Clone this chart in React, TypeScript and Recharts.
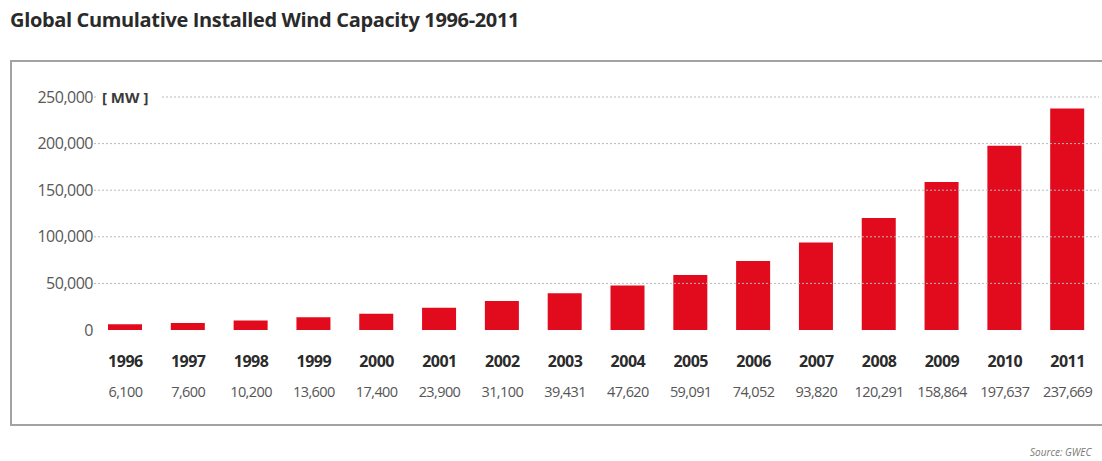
import React from "react";
import { BarChart, Bar, XAxis, YAxis, ReferenceLine } from "recharts";

const YEARS = [
  "1996", "1997", "1998", "1999", "2000", "2001", "2002", "2003",
  "2004", "2005", "2006", "2007", "2008", "2009", "2010", "2011",
];
const CAPACITY = [
  6100, 7600, 10200, 13600, 17400, 23900, 31100, 39431,
  47620, 59091, 74052, 93820, 120291, 158864, 197637, 237669,
];
const Y_TICKS = [0, 50000, 100000, 150000, 200000, 250000];
const GRID_VALUES = [50000, 100000, 150000, 200000, 250000];

const FONT = "'Open Sans', 'Noto Sans', sans-serif";
const RED = "#e20a1d";

const data = YEARS.map((year, i) => ({ year, mw: CAPACITY[i] }));

const fmt = (v: number) => v.toLocaleString("en-US");

function YearTick(props: any) {
  const { x, y, payload, index } = props;
  return (
    <g>
      <text
        x={x}
        y={y + 37}
        textAnchor="middle"
        fontFamily={FONT}
        fontSize={16}
        fontWeight={700}
        letterSpacing={-0.5}
        fill="#2b2b2b"
      >
        {payload.value}
      </text>
      <text
        x={x}
        y={y + 67}
        textAnchor="middle"
        fontFamily={FONT}
        fontSize={14.5}
        letterSpacing={-0.6}
        fill="#555"
      >
        {fmt(CAPACITY[index])}
      </text>
    </g>
  );
}

function MwLabel(props: any) {
  const { viewBox } = props;
  const x = viewBox.x + 6;
  const y = viewBox.y;
  return (
    <g>
      <rect x={x - 2} y={y - 11} width={64} height={22} fill="#fff" />
      <text
        x={x + 2}
        y={y}
        dominantBaseline="central"
        fontFamily={FONT}
        fontSize={15}
        fontWeight={700}
        fill="#3a3a3a"
      >
        [ MW ]
      </text>
    </g>
  );
}

export default function App() {
  return (
    <div
      style={{
        position: "absolute",
        left: 0,
        top: 0,
        width: 1102,
        height: 461,
        overflow: "hidden",
        background: "#fff",
        fontFamily: FONT,
      }}
    >
      <div
        style={{
          position: "absolute",
          left: 10,
          top: 7,
          fontSize: 20,
          fontWeight: 700,
          color: "#2a2a2a",
          letterSpacing: -0.35,
          lineHeight: "26px",
        }}
      >
        Global Cumulative Installed Wind Capacity 1996-2011
      </div>
      <div
        style={{
          position: "absolute",
          left: 10,
          top: 60,
          width: 1110,
          height: 366,
          border: "2px solid #a3a3a3",
          boxSizing: "border-box",
        }}
      />
      <div style={{ position: "absolute", left: 0, top: 0 }}>
        <BarChart
          width={1102}
          height={461}
          data={data}
          margin={{ top: 97, right: 3, bottom: 61, left: 0 }}
        >
          <XAxis
            dataKey="year"
            axisLine={false}
            tickLine={false}
            tickSize={0}
            tickMargin={0}
            height={70}
            interval={0}
            tick={<YearTick />}
          />
          <YAxis
            width={94}
            domain={[0, 250000]}
            ticks={Y_TICKS}
            axisLine={false}
            tickLine={false}
            tickSize={0}
            tickMargin={1}
            tickFormatter={fmt}
            tick={{ fontSize: 16, fill: "#585858", fontFamily: FONT, letterSpacing: -0.5 }}
          />
          {GRID_VALUES.map((v) => (
            <ReferenceLine
              key={v}
              y={v}
              stroke="#b8b8b8"
              strokeDasharray="2 2"
              label={v === 250000 ? <MwLabel /> : undefined}
            />
          ))}
          <Bar dataKey="mw" fill={RED} barSize={34} isAnimationActive={false} />
        </BarChart>
      </div>
      <div
        style={{
          position: "absolute",
          left: 1030,
          top: 445,
          fontSize: 10,
          fontStyle: "italic",
          color: "#777",
          whiteSpace: "nowrap",
        }}
      >
        Source: GWEC
      </div>
    </div>
  );
}
